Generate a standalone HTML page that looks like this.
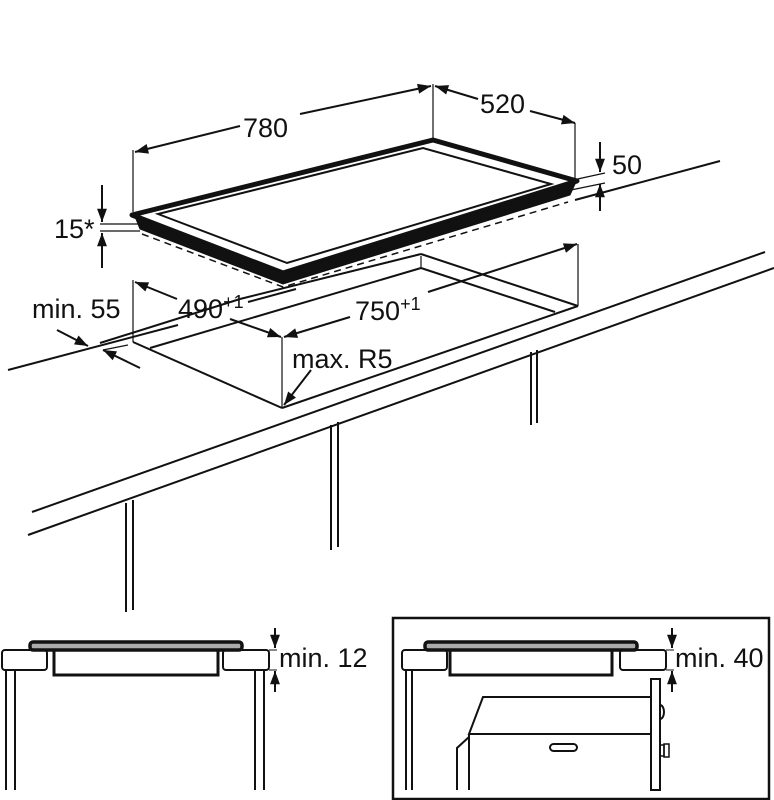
<!DOCTYPE html>
<html><head><meta charset="utf-8"><style>
html,body{margin:0;padding:0;background:#fff;}
svg{display:block;}
text{font-family:"Liberation Sans Narrow","Liberation Sans",sans-serif;font-size:27px;fill:#111;}
</style></head><body>
<svg width="774" height="800" viewBox="0 0 774 800" xmlns="http://www.w3.org/2000/svg">
<defs>
<marker id="a" viewBox="0 0 12 10" refX="12" refY="5" markerWidth="14" markerHeight="11" orient="auto-start-reverse" markerUnits="userSpaceOnUse"><path d="M0,0.5 L12,5 L0,9.5 z" fill="#111"/></marker>
</defs>
<g stroke="#111" fill="none" stroke-width="2">
<line x1="8" y1="370" x2="178" y2="325"/>
<line x1="575" y1="200" x2="720" y2="161"/>
<line x1="133" y1="342" x2="282" y2="408"/>
<line x1="282" y1="408" x2="578" y2="306"/>
<line x1="578" y1="306" x2="421" y2="254"/>
<line x1="421" y1="254" x2="240" y2="299"/>
<line x1="240" y1="299" x2="100" y2="343"/>
<line x1="421" y1="268" x2="150" y2="348"/>
<line x1="421" y1="268" x2="555" y2="312"/>
<line x1="421" y1="256" x2="421" y2="268" stroke-width="1.2"/>
<line x1="248" y1="302" x2="296" y2="289"/>
<line x1="32" y1="512" x2="765" y2="252"/>
<line x1="28" y1="535" x2="774" y2="268"/>
<line x1="126" y1="503" x2="126" y2="612"/><line x1="133" y1="500" x2="133" y2="610"/>
<line x1="331" y1="425" x2="331" y2="550"/><line x1="338" y1="422" x2="338" y2="547"/>
<line x1="531" y1="352" x2="531" y2="425"/><line x1="537" y1="350" x2="537" y2="423"/>
<polygon points="132,215 433,140 577,181 283,273" stroke-width="5" fill="#fff" stroke-linejoin="round"/>
<polygon points="158,214 423,148 551,184 287,263" stroke-width="2"/>
<polygon points="136,219 283,273 575,184 570,195 283,284 140,229" fill="#111" stroke-width="1"/>
<polyline points="142,234 283,287 568,202" stroke-dasharray="7,5" stroke-width="1.5"/>
<line x1="100" y1="224" x2="140" y2="224" stroke-width="1.2"/>
<line x1="100" y1="231" x2="140" y2="231" stroke-width="1.2"/>
<line x1="102" y1="185" x2="102" y2="222" marker-end="url(#a)"/>
<line x1="102" y1="268" x2="102" y2="233" marker-end="url(#a)"/>
<line x1="133" y1="212" x2="133" y2="150" stroke-width="1.2"/>
<line x1="433" y1="138" x2="433" y2="84" stroke-width="1.2"/>
<line x1="240" y1="126" x2="135" y2="152" marker-end="url(#a)"/>
<line x1="300" y1="114" x2="431" y2="86" marker-end="url(#a)"/>
<line x1="478" y1="99" x2="435" y2="86" marker-end="url(#a)"/>
<line x1="530" y1="111" x2="575" y2="123" marker-end="url(#a)"/>
<line x1="575" y1="123" x2="575" y2="180" stroke-width="1.2"/>
<line x1="573" y1="180" x2="605" y2="173" stroke-width="1.2"/>
<line x1="566" y1="191" x2="605" y2="183" stroke-width="1.2"/>
<line x1="600" y1="142" x2="600" y2="172" marker-end="url(#a)"/>
<line x1="600" y1="211" x2="600" y2="184" marker-end="url(#a)"/>
<line x1="133" y1="280" x2="133" y2="342" stroke-width="1.2"/>
<line x1="177" y1="299" x2="135" y2="282" marker-end="url(#a)"/>
<line x1="230" y1="319" x2="281" y2="337" marker-end="url(#a)"/>
<line x1="282" y1="337" x2="282" y2="408" stroke-width="1.2"/>
<line x1="350" y1="317" x2="284" y2="337" marker-end="url(#a)"/>
<line x1="428" y1="292" x2="577" y2="244" marker-end="url(#a)"/>
<line x1="578" y1="244" x2="578" y2="306" stroke-width="1.2"/>
<line x1="57" y1="330" x2="88" y2="346" marker-end="url(#a)"/>
<line x1="140" y1="368" x2="103" y2="350" marker-end="url(#a)"/>
<line x1="103" y1="350" x2="128" y2="345" stroke-width="1.2"/>
<line x1="311" y1="370" x2="284" y2="405" marker-end="url(#a)"/>
</g>
<text x="243" y="137">780</text>
<text x="480" y="113">520</text>
<text x="612" y="174">50</text>
<text x="54" y="238">15*</text>
<text x="32" y="318">min. 55</text>
<text x="178" y="318">490<tspan font-size="18" dy="-10">+1</tspan></text>
<text x="355" y="320">750<tspan font-size="18" dy="-10">+1</tspan></text>
<text x="292" y="368">max. R5</text>

<g stroke="#111" fill="none" stroke-width="2">
<rect x="2" y="650" width="45" height="20" rx="3" fill="#fff"/>
<rect x="223" y="650" width="46" height="20" rx="3" fill="#fff"/>
<rect x="54" y="650" width="164" height="25" stroke-width="3"/>
<rect x="30" y="642" width="212" height="8" rx="3" fill="#aaa" stroke-width="3.5"/>
<line x1="6" y1="670" x2="6" y2="790"/><line x1="15" y1="670" x2="15" y2="790"/>
<line x1="255" y1="670" x2="255" y2="790"/><line x1="264" y1="670" x2="264" y2="790"/>
<line x1="275" y1="628" x2="275" y2="648" marker-end="url(#a)"/>
<line x1="275" y1="692" x2="275" y2="671" marker-end="url(#a)"/>
<line x1="269" y1="650" x2="277" y2="650" stroke-width="1"/>
<line x1="269" y1="670" x2="277" y2="670" stroke-width="1"/>
</g>
<text x="279" y="667">min. 12</text>

<g stroke="#111" fill="none" stroke-width="2">
<rect x="393" y="618" width="376" height="181" stroke-width="2.5"/>
<rect x="402" y="650" width="45" height="20" rx="3" fill="#fff"/>
<rect x="620" y="650" width="46" height="20" rx="3" fill="#fff"/>
<rect x="450" y="650" width="162" height="25" stroke-width="3"/>
<rect x="425" y="642" width="212" height="8" rx="3" fill="#aaa" stroke-width="3.5"/>
<line x1="406" y1="670" x2="406" y2="790"/><line x1="412" y1="670" x2="412" y2="790"/>
<rect x="651" y="679" width="9" height="111"/>
<path d="M660,705 a4,7 0 0 1 0,14"/>
<polyline points="650,697 483,697 469,734 650,734"/>
<line x1="469" y1="734" x2="469" y2="790"/>
<polyline points="469,737 457,748 457,790"/>
<rect x="550" y="744" width="27" height="7" rx="3.5"/>
<rect x="660" y="745" width="4" height="11" stroke-width="1.5"/>
<rect x="664" y="744" width="5" height="13" stroke-width="1.5"/>
<line x1="672" y1="628" x2="672" y2="648" marker-end="url(#a)"/>
<line x1="672" y1="692" x2="672" y2="671" marker-end="url(#a)"/>
<line x1="666" y1="650" x2="674" y2="650" stroke-width="1"/>
<line x1="666" y1="670" x2="674" y2="670" stroke-width="1"/>
</g>
<text x="675" y="667">min. 40</text>
</svg>
</body></html>
